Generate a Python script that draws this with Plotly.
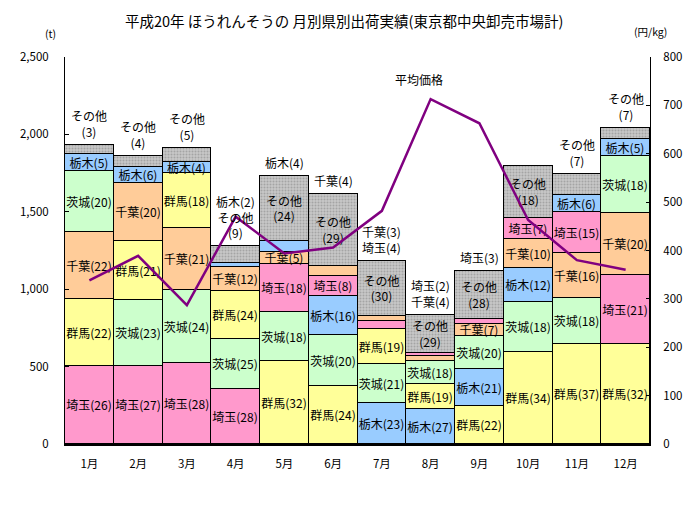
import plotly.graph_objects as go

months = ['1月', '2月', '3月', '4月', '5月', '6月', '7月', '8月', '9月', '10月', '11月', '12月']

# 出荷量 (t)
saitama = [504, 502, 521, 353, 306, 129, 52, 17, 35, 134, 269, 442]
gunma = [433, 383, 355, 312, 538, 377, 226, 160, 243, 592, 644, 648]
chiba = [431, 377, 400, 153, 81, 63, 34, 34, 73, 189, 287, 400]
ibaraki = [398, 426, 472, 323, 317, 328, 252, 151, 217, 327, 301, 370]
tochigi = [106, 100, 71, 26, 69, 254, 263, 226, 240, 216, 108, 108]
others = [58, 71, 90, 115, 420, 463, 358, 244, 310, 338, 136, 71]

# シェア (%)
saitama_pct = [26, 27, 28, 28, 18, 8, 4, 2, 3, 7, 15, 21]
gunma_pct = [22, 21, 18, 24, 32, 24, 19, 19, 22, 34, 37, 32]
chiba_pct = [22, 20, 21, 12, 5, 4, 3, 4, 7, 10, 16, 20]
ibaraki_pct = [20, 23, 24, 25, 18, 20, 21, 18, 20, 18, 18, 18]
tochigi_pct = [5, 6, 4, 2, 4, 16, 23, 27, 21, 12, 6, 5]
others_pct = [3, 4, 5, 9, 24, 29, 30, 29, 28, 18, 7, 7]

# 平均価格 (円/kg)
price = [338, 389, 287, 470, 394, 406, 482, 713, 663, 463, 380, 360]

# 棒の外に出すラベル(上から順)
outside = [['その他'], ['その他'], ['その他'], ['栃木', 'その他'], ['栃木'], ['千葉'],
           ['千葉', '埼玉'], ['埼玉', '千葉'], ['埼玉'], [], ['その他'], ['その他']]

prefs = {
    '埼玉': (saitama, saitama_pct, '#FF99CC'),
    '群馬': (gunma, gunma_pct, '#FFFF99'),
    '千葉': (chiba, chiba_pct, '#FFCC99'),
    '茨城': (ibaraki, ibaraki_pct, '#CCFFCC'),
    '栃木': (tochigi, tochigi_pct, '#99CCFF'),
}

FONT = 'Noto Sans CJK JP'


def label(name, pct):
    if name == 'その他':
        return 'その他<br>(%d)' % pct
    return '%s(%d)' % (name, pct)


fig = go.Figure()

# 月ごとに多い順に下から積む
order = []
for m in range(12):
    names = sorted(prefs.keys(), key=lambda n: -prefs[n][0][m])
    order.append(names)

for k in range(5):
    vals, cols, texts = [], [], []
    for m in range(12):
        n = order[m][k]
        vals.append(prefs[n][0][m])
        cols.append(prefs[n][2])
        texts.append('' if n in outside[m] else label(n, prefs[n][1][m]))
    fig.add_trace(go.Bar(
        x=months, y=vals, text=texts, textposition='inside',
        insidetextanchor='middle', textangle=0, constraintext='none',
        textfont=dict(family=FONT, size=12, color='black'),
        marker=dict(color=cols, line=dict(color='black', width=1)),
        width=1, hoverinfo='skip', showlegend=False))

fig.add_trace(go.Bar(
    x=months, y=others,
    text=['' if 'その他' in outside[m] else label('その他', others_pct[m]) for m in range(12)],
    textposition='inside', insidetextanchor='middle', textangle=0, constraintext='none',
    textfont=dict(family=FONT, size=12, color='black'),
    marker=dict(color='#C8C8C8', line=dict(color='black', width=1),
                pattern=dict(shape='.', fgcolor='#808080', size=3, solidity=0.35, fillmode='overlay')),
    width=1, hoverinfo='skip', showlegend=False))

fig.add_trace(go.Scatter(
    x=months, y=price, yaxis='y2', mode='lines',
    line=dict(color='#800080', width=2.5), hoverinfo='skip', showlegend=False))

# 棒の上のラベル
pct_of = dict((n, prefs[n][1]) for n in prefs)
pct_of['その他'] = others_pct
for m in range(12):
    if not outside[m]:
        continue
    total = sum(prefs[n][0][m] for n in prefs) + others[m]
    txt = '<br>'.join(label(n, pct_of[n][m]) for n in outside[m])
    fig.add_annotation(x=months[m], y=total, text=txt, showarrow=False,
                       yanchor='bottom', yshift=3,
                       font=dict(family=FONT, size=12, color='black'))

fig.add_annotation(xref='paper', yref='paper', x=0.605, y=0.943, text='平均価格',
                   xanchor='center', yanchor='middle', showarrow=False,
                   font=dict(family=FONT, size=12, color='black'))
fig.add_annotation(xref='paper', yref='paper', x=-0.025, y=1.062, text='(t)',
                   xanchor='center', yanchor='middle', showarrow=False,
                   font=dict(family=FONT, size=10.5, color='black'))
fig.add_annotation(xref='paper', yref='paper', x=1.0, y=1.065, text='(円/kg)',
                   xanchor='center', yanchor='middle', showarrow=False,
                   font=dict(family=FONT, size=10.5, color='black'))

fig.update_layout(
    width=686, height=504,
    margin=dict(l=40, r=39, t=49, b=68),
    paper_bgcolor='white', plot_bgcolor='white',
    barmode='stack', bargap=0,
    uniformtext=dict(mode='show', minsize=12),
    font=dict(family=FONT, size=11, color='black'),
    title=dict(text='平成20年 ほうれんそうの 月別県別出荷実績(東京都中央卸売市場計)',
               x=0.49, xanchor='center', y=0.972, yanchor='middle',
               font=dict(family=FONT, size=14.5, color='black')),
    xaxis=dict(range=[-0.5, 11.5], showline=True, linecolor='black', linewidth=2,
               ticks='', showgrid=False, tickfont=dict(size=11.5), ticklabelstandoff=8),
    yaxis=dict(range=[0, 2500], tickvals=[0, 500, 1000, 1500, 2000, 2500], tickformat=',',
               ticks='inside', ticklen=4, tickcolor='black', showline=True, linecolor='black',
               linewidth=1, showgrid=False, zeroline=False, ticklabelstandoff=13,
               tickfont=dict(size=11.5)),
    yaxis2=dict(range=[0, 800], dtick=100, overlaying='y', side='right',
                ticks='inside', ticklen=4, tickcolor='black', showline=True, linecolor='black',
                linewidth=1, showgrid=False, zeroline=False, ticklabelstandoff=10,
                tickfont=dict(size=11.5)),
)

fig.write_html("out.html")
